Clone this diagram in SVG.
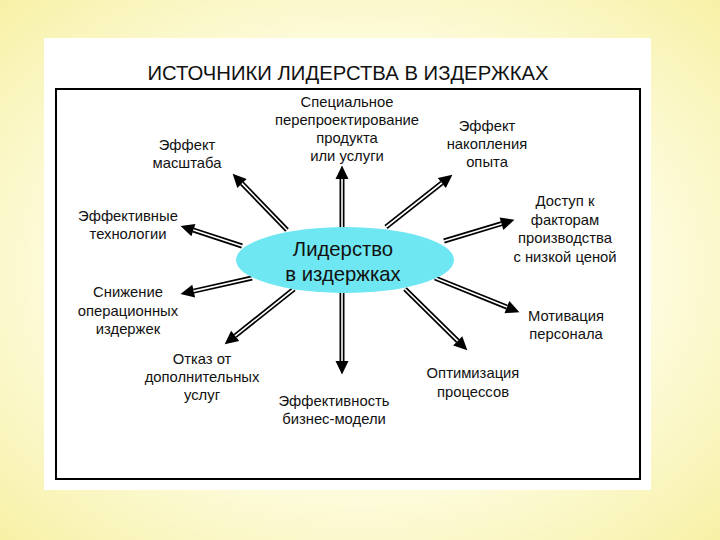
<svg xmlns="http://www.w3.org/2000/svg" width="720" height="540" viewBox="0 0 720 540">
<defs>
<radialGradient id="bg" cx="50%" cy="50%" r="75%">
<stop offset="0" stop-color="#fffff4"/>
<stop offset="0.55" stop-color="#fdfbdc"/>
<stop offset="1" stop-color="#f6ef9e"/>
</radialGradient>
<marker id="head" markerUnits="userSpaceOnUse" markerWidth="14" markerHeight="14" refX="0" refY="6.5" orient="auto" overflow="visible">
<path d="M0,0 L13.5,6.5 L0,13 Z" fill="#000"/>
</marker>
<style>
.lbl{font-family:"Liberation Sans",Arial,sans-serif;font-size:14.8px;fill:#111;text-anchor:middle}
.title{font-family:"Liberation Sans",Arial,sans-serif;font-size:20.3px;fill:#111;text-anchor:middle}
.center{font-family:"Liberation Sans",Arial,sans-serif;font-size:20.3px;fill:#111;text-anchor:middle}
.sh{stroke:#000;stroke-width:5;fill:none;marker-end:url(#head)}
.gap{stroke:#fff;stroke-width:1.6;fill:none}
</style>
</defs>
<rect x="0" y="0" width="720" height="540" fill="url(#bg)"/>
<rect x="44" y="38" width="607" height="452" fill="#fff"/>
<text class="title" x="348" y="80">ИСТОЧНИКИ ЛИДЕРСТВА В ИЗДЕРЖКАХ</text>
<rect x="56" y="89" width="584" height="390" fill="#fff" stroke="#000" stroke-width="2"/>
<g id="connectors">
<g id="a-up"><path class="sh" d="M342,228 L342,179"/><path class="gap" d="M342,228 L342,179"/></g>
<g id="a-down"><path class="sh" d="M342,292 L342,361"/><path class="gap" d="M342,292 L342,361"/></g>
<g id="a-ul"><path class="sh" d="M287,230 L242,183.4"/><path class="gap" d="M287,230 L242,183.4"/></g>
<g id="a-ur"><path class="sh" d="M386,227 L441.8,183"/><path class="gap" d="M386,227 L441.8,183"/></g>
<g id="a-l"><path class="sh" d="M242,246 L193.4,230.1"/><path class="gap" d="M242,246 L193.4,230.1"/></g>
<g id="a-r"><path class="sh" d="M444,241 L501.5,223.7"/><path class="gap" d="M444,241 L501.5,223.7"/></g>
<g id="a-ld"><path class="sh" d="M252,278 L193.7,291.1"/><path class="gap" d="M252,278 L193.7,291.1"/></g>
<g id="a-rd"><path class="sh" d="M435,278 L506.9,307.1"/><path class="gap" d="M435,278 L506.9,307.1"/></g>
<g id="a-dl"><path class="sh" d="M294,289 L235.2,335.9"/><path class="gap" d="M294,289 L235.2,335.9"/></g>
<g id="a-dr"><path class="sh" d="M405,289 L457.7,340.9"/><path class="gap" d="M405,289 L457.7,340.9"/></g>
</g>
<g id="center">
<ellipse cx="345" cy="260" rx="109" ry="33" fill="#6ee7f2"/>
<text class="center" x="343" y="256">Лидерство</text>
<text class="center" x="343" y="281">в издержках</text>
</g>
<g id="n-redesign">
<text class="lbl" x="347" y="107">Специальное</text>
<text class="lbl" x="347" y="125">перепроектирование</text>
<text class="lbl" x="347" y="143">продукта</text>
<text class="lbl" x="347" y="161">или услуги</text>
</g>
<g id="n-scale">
<text class="lbl" x="187" y="150">Эффект</text>
<text class="lbl" x="187" y="168">масштаба</text>
</g>
<g id="n-experience">
<text class="lbl" x="487" y="131">Эффект</text>
<text class="lbl" x="487" y="149">накопления</text>
<text class="lbl" x="487" y="167">опыта</text>
</g>
<g id="n-tech">
<text class="lbl" x="128" y="221">Эффективные</text>
<text class="lbl" x="128" y="239">технологии</text>
</g>
<g id="n-access">
<text class="lbl" x="565" y="206">Доступ к</text>
<text class="lbl" x="565" y="225">факторам</text>
<text class="lbl" x="565" y="243">производства</text>
<text class="lbl" x="565" y="262">с низкой ценой</text>
</g>
<g id="n-opcost">
<text class="lbl" x="128" y="297">Снижение</text>
<text class="lbl" x="128" y="316">операционных</text>
<text class="lbl" x="128" y="334">издержек</text>
</g>
<g id="n-motivation">
<text class="lbl" x="566" y="321">Мотивация</text>
<text class="lbl" x="566" y="339">персонала</text>
</g>
<g id="n-refuse">
<text class="lbl" x="202" y="364">Отказ от</text>
<text class="lbl" x="202" y="382">дополнительных</text>
<text class="lbl" x="202" y="400">услуг</text>
</g>
<g id="n-process">
<text class="lbl" x="473" y="378">Оптимизация</text>
<text class="lbl" x="473" y="397">процессов</text>
</g>
<g id="n-model">
<text class="lbl" x="334" y="406">Эффективность</text>
<text class="lbl" x="334" y="424">бизнес-модели</text>
</g>
</svg>
